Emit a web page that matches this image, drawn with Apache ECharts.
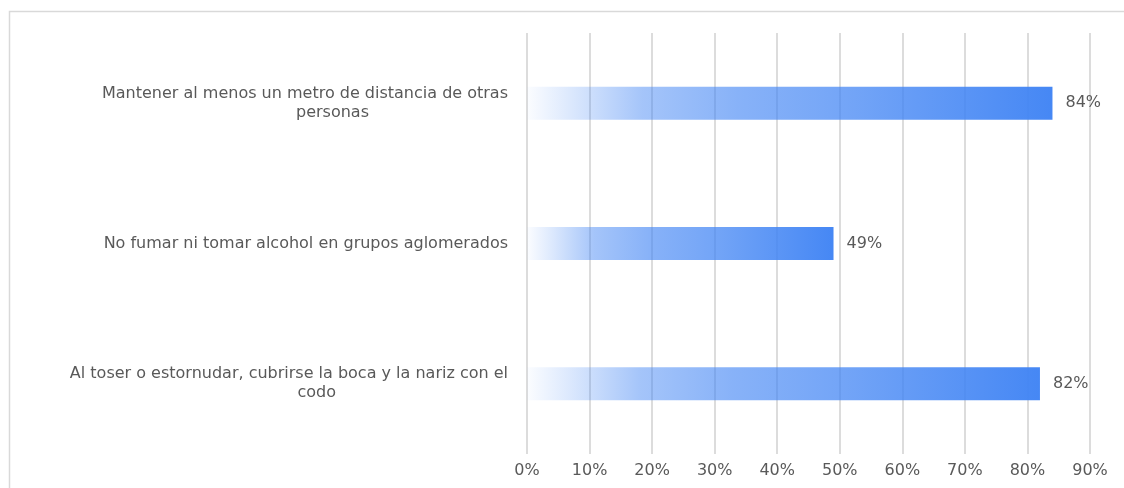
<!DOCTYPE html>
<html>
<head>
<meta charset="utf-8">
<script src="https://cdn.jsdelivr.net/npm/echarts@6/dist/echarts.min.js"></script>
<style>
  html, body { margin: 0; padding: 0; background: #ffffff; }
  #chart { width: 1124px; height: 488px; }
</style>
</head>
<body>
<div id="chart"></div>
<script>
// Medidas de prevención: porcentaje de personas que las practican
const categories = [
  'Mantener al menos un metro de distancia de otras\npersonas',
  'No fumar ni tomar alcohol en grupos aglomerados',
  'Al toser o estornudar, cubrirse la boca y la nariz con el\ncodo'
];
const values = [84, 49, 82];
const tickMax = 90;
const tickStep = 10;

const FONT = 'DejaVu Sans';
const CAT_SIZE = 16;
const TEXT_COLOR = '#595959';
const SECOND_LINE_SHIFT = 28;

// Measure line widths so the second line of a wrapped label sits under the first
const measureCtx = document.createElement('canvas').getContext('2d');
measureCtx.font = CAT_SIZE + 'px "' + FONT + '"';
function lineWidth(s) { return measureCtx.measureText(s).width; }
function secondLinePad(lines) {
  return Math.round(Math.max(0, (lineWidth(lines[0]) - lineWidth(lines[1])) / 2 - SECOND_LINE_SHIFT));
}

function formatCategory(label) {
  const lines = label.split('\n');
  if (lines.length === 1) return '{a|' + lines[0] + '}';
  return '{a|' + lines[0] + '}\n{b' + secondLinePad(lines) + '|' + lines[1] + '}';
}

// Rich styles for the label lines; second lines keyed by their right padding
const rich = { a: { fontFamily: FONT, fontSize: CAT_SIZE, color: TEXT_COLOR, lineHeight: 19 } };
categories.forEach(function (c) {
  const lines = c.split('\n');
  if (lines.length > 1) {
    const pad = secondLinePad(lines);
    rich['b' + pad] = { fontFamily: FONT, fontSize: CAT_SIZE, color: TEXT_COLOR, lineHeight: 19, padding: [0, pad, 0, 0] };
  }
});

const chart = echarts.init(document.getElementById('chart'), null, { renderer: 'canvas' });

// Horizontal fade from almost transparent to solid blue along each bar
const barGradient = new echarts.graphic.LinearGradient(0, 0, 1, 0, [
  { offset: 0, color: 'rgba(66,133,244,0.02)' },
  { offset: 0.08, color: 'rgba(66,133,244,0.18)' },
  { offset: 0.22, color: 'rgba(66,133,244,0.48)' },
  { offset: 0.4, color: 'rgba(66,133,244,0.63)' },
  { offset: 0.63, color: 'rgba(66,133,244,0.75)' },
  { offset: 1, color: 'rgba(66,133,244,0.98)' }
]);

chart.setOption({
  animation: false,
  backgroundColor: '#ffffff',
  graphic: [{
    type: 'rect',
    shape: { x: 9.5, y: 11.5, width: 1130, height: 500 },
    style: { fill: 'none', stroke: '#d9d9d9', lineWidth: 1.5 },
    silent: true,
    z: -10
  }],
  grid: { left: 527, top: 33, width: 563, height: 421, containLabel: false },
  xAxis: {
    type: 'value',
    min: 0,
    max: tickMax,
    interval: tickStep,
    axisLine: { show: false },
    axisTick: { show: false },
    splitLine: { show: true, lineStyle: { color: '#d0d0d0', width: 1.5 } },
    axisLabel: {
      formatter: '{value}%',
      fontFamily: FONT,
      fontSize: 16,
      color: TEXT_COLOR,
      margin: 9
    }
  },
  yAxis: {
    type: 'category',
    data: categories,
    inverse: true,
    axisLine: { show: false },
    axisTick: { show: false },
    axisLabel: {
      margin: 19,
      align: 'right',
      formatter: formatCategory,
      rich: rich
    }
  },
  series: [{
    type: 'bar',
    data: values,
    barWidth: 33,
    itemStyle: { color: barGradient },
    label: {
      show: true,
      position: 'right',
      distance: 13,
      formatter: '{c}%',
      fontFamily: FONT,
      fontSize: 16,
      color: TEXT_COLOR
    }
  }]
});
</script>
</body>
</html>
